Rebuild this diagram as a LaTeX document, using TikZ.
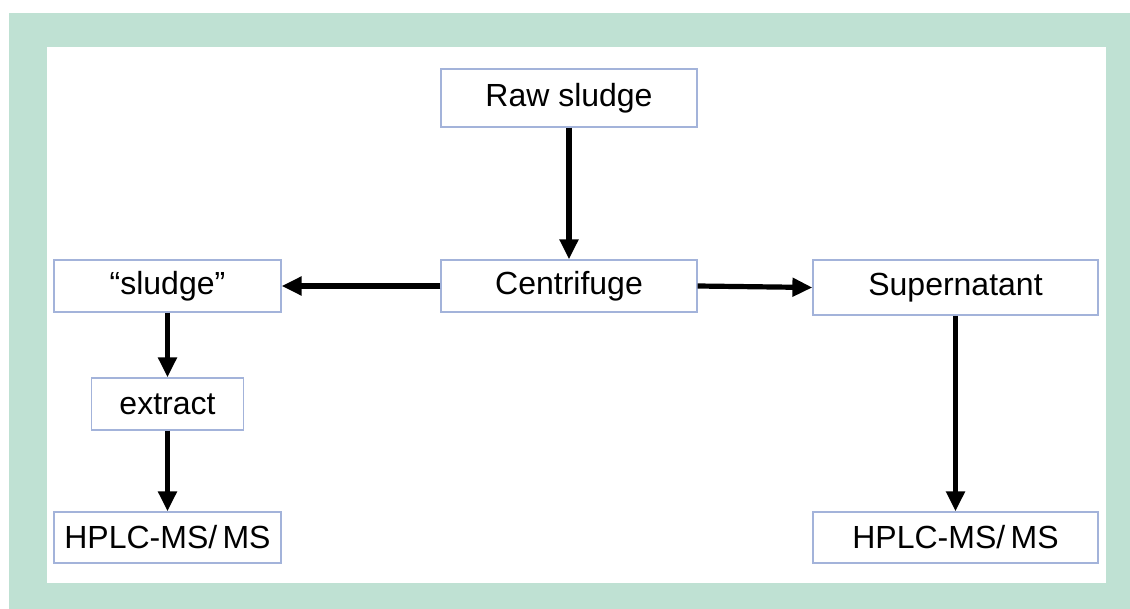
\documentclass[tikz,border=0pt]{standalone}
\usepackage{fontspec}
\setmainfont{Liberation Sans}
\usepackage{xcolor}
\usetikzlibrary{arrows.meta}
\definecolor{framegreen}{HTML}{BFE1D3}
\definecolor{boxblue}{HTML}{A3B3DA}

\begin{document}
\begin{tikzpicture}[x=0.5pt,y=-0.5pt,
  stepbox/.style={draw=boxblue,line width=0.6pt,fill=white,inner sep=0pt,
    font=\fontsize{16}{18}\selectfont},
  flow/.style={line width=2.6pt,-{Triangle[length=10pt,width=9pt]}}]
  \useasboundingbox (0,0) rectangle (1130,609);
  \fill[framegreen] (9,13) rectangle (1130,609);
  \fill[white] (47,47) rectangle (1106,583);
  % boxes
  \node[stepbox,minimum width=128pt,minimum height=29pt] (raw) at (569,98) {Raw sludge};
  \node[stepbox,minimum width=128pt,minimum height=26pt] (cent) at (569,286) {Centrifuge};
  \node[stepbox,minimum width=113.5pt,minimum height=26pt] (sludge) at (167.5,286) {``sludge''};
  \node[stepbox,minimum width=76pt,minimum height=26pt] (extract) at (167.5,404) {extract};
  \node[stepbox,minimum width=113.5pt,minimum height=25.5pt] (hplcL) at (167.5,537.5) {HPLC-MS/\,MS};
  \node[stepbox,minimum width=142.5pt,minimum height=27.5pt] (super) at (955.5,287.5) {Supernatant};
  \node[stepbox,minimum width=142.5pt,minimum height=25.5pt] (hplcR) at (955.5,537.5) {HPLC-MS/\,MS};
  % arrows
  \draw[flow] (raw) -- (cent);
  \draw[flow] (cent) -- (sludge);
  \draw[flow] (cent.east) -- (super.west);
  \draw[flow] (sludge) -- (extract);
  \draw[flow] (extract) -- (hplcL);
  \draw[flow] (super) -- (hplcR);
\end{tikzpicture}
\end{document}
